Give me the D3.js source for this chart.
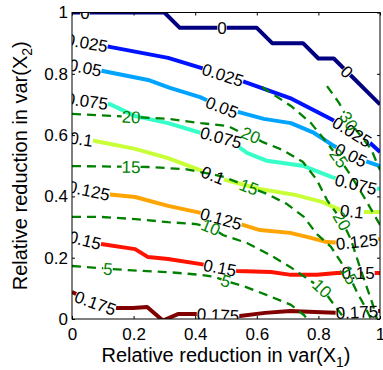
<!DOCTYPE html>
<html>
<head>
<meta charset="utf-8">
<script src="https://cdn.jsdelivr.net/npm/d3@7"></script>
<style>
  body { margin: 0; background: #fff; }
  text { font-family: "Liberation Sans", Arial, Helvetica, sans-serif; }
</style>
</head>
<body>
<div id="plot"></div>
<script>
const W = 383, H = 370;
const margin = { top: 12.5, right: 3, bottom: 51, left: 72 },
      width = W - margin.left - margin.right,
      height = H - margin.top - margin.bottom;

// Axis ticks
const ticks = [0, 0.2, 0.4, 0.6, 0.8, 1];
const tickLabels = ["0", "0.2", "0.4", "0.6", "0.8", "1"];

const varLevels = [0, 0.025, 0.05, 0.075, 0.1, 0.125, 0.15, 0.175];
const varNames = ["0", "0.025", "0.05", "0.075", "0.1", "0.125", "0.15", "0.175"];
const var000 = [[0,1],[0.3,1],[0.35,0.95],[0.6,0.95],[0.65,0.9],[0.75,0.9],[0.8,0.85],[0.85,0.85],[1,0.7]];
const var025 = [[0,0.91],[0.127,0.887],[0.312,0.852],[0.442,0.812],[0.562,0.773],[0.708,0.721],[0.847,0.649],[0.968,0.574],[1,0.545]];
const var050 = [[0,0.829],[0.1,0.809],[0.247,0.78],[0.318,0.754],[0.416,0.724],[0.494,0.688],[0.623,0.653],[0.711,0.639],[0.786,0.607],[0.851,0.564],[0.925,0.525],[1,0.499]];
const var075 = [[0,0.718],[0.123,0.701],[0.205,0.662],[0.312,0.639],[0.419,0.607],[0.506,0.587],[0.568,0.542],[0.633,0.516],[0.753,0.499],[0.844,0.463],[0.919,0.44],[1,0.424]];
const var100 = [[0,0.591],[0.075,0.581],[0.205,0.555],[0.312,0.525],[0.416,0.486],[0.497,0.454],[0.61,0.424],[0.724,0.405],[0.812,0.382],[0.87,0.356],[0.929,0.349],[1,0.349]];
const var125 = [[0,0.431],[0.107,0.408],[0.205,0.398],[0.312,0.369],[0.419,0.346],[0.555,0.307],[0.61,0.29],[0.708,0.281],[0.763,0.268],[0.828,0.251],[0.886,0.248],[1,0.261]];
const var150 = [[0,0.268],[0.094,0.245],[0.205,0.228],[0.247,0.202],[0.312,0.196],[0.419,0.179],[0.536,0.157],[0.646,0.153],[0.711,0.144],[0.795,0.144],[0.86,0.15],[1,0.15]];
const var175 = [[0,0.088],[0.052,0.062],[0.091,0.046],[0.146,0.036],[0.198,0.036],[0.244,0.039],[0.295,-0.005],[0.344,0.016],[0.419,0.016],[0.545,0.01],[0.627,0.02],[0.708,0.026],[0.789,0.023],[0.86,0.02],[1,0.026]];
const varLines = [var000, var025, var050, var075, var100, var125, var150, var175];
// where along x1 the inline labels sit
const varLabelX = [
  [0.042, 0.487, 0.893],
  [0.048, 0.49, 0.909],
  [0.043, 0.487, 0.906],
  [0.048, 0.484, 0.922],
  [0.03, 0.458, 0.909],
  [0.055, 0.484, 0.925],
  [0.042, 0.48, 0.929],
  [0.076, 0.474, 0.925]
];

// Dashed contours
const snrNames = ["5", "10", "15", "20", "25", "30"];
const snr05 = [[0,0.173],[0.172,0.16],[0.312,0.153],[0.419,0.144],[0.464,0.137],[0.5,0.124],[0.558,0.107],[0.633,0.078],[0.711,0.046],[0.753,0.013],[0.763,0]];
const snr10 = [[0,0.333],[0.094,0.333],[0.205,0.326],[0.312,0.316],[0.399,0.31],[0.451,0.3],[0.49,0.274],[0.568,0.248],[0.643,0.209],[0.708,0.17],[0.76,0.134],[0.812,0.1],[0.851,0.046],[0.886,0]];
const snr15 = [[0,0.499],[0.247,0.496],[0.367,0.489],[0.451,0.473],[0.494,0.463],[0.575,0.431],[0.633,0.408],[0.698,0.375],[0.753,0.333],[0.795,0.277],[0.841,0.235],[0.873,0.186],[0.899,0.144],[0.925,0.088],[0.948,0.046],[0.971,0]];
const snr20 = [[0,0.669],[0.14,0.662],[0.312,0.653],[0.419,0.639],[0.506,0.63],[0.545,0.61],[0.581,0.6],[0.62,0.577],[0.685,0.551],[0.75,0.512],[0.795,0.454],[0.828,0.388],[0.877,0.32],[0.906,0.258],[0.925,0.199],[0.951,0.121],[0.974,0.055],[0.99,0]];
const snr25 = [[0.617,0.757],[0.711,0.695],[0.776,0.639],[0.818,0.587],[0.867,0.525],[0.906,0.467],[0.948,0.398],[1,0.307]];
const snr30 = [[0.828,0.76],[0.867,0.705],[0.899,0.646],[0.938,0.597],[0.971,0.555],[0.99,0.509],[1,0.486]];
const snrLines = [snr05, snr10, snr15, snr20, snr25, snr30];
const snrLabelX = [
  [0.117, 0.5],
  [0.451, 0.812],
  [0.192, 0.575, 0.899],
  [0.192, 0.581, 0.877],
  [0.867],
  [0.899]
];

// jet colormap, like the original figure
function jet(t) {
  const c = v => Math.round(255 * Math.max(0, Math.min(1, 1.5 - Math.abs(v))));
  return d3.rgb(c(4 * t - 3), c(4 * t - 2), c(4 * t - 1)).formatHex();
}
const green = "#008000";

const svg = d3.select("#plot")
  .append("svg")
    .attr("width", W)
    .attr("height", H)
  .append("g")
    .attr("transform", `translate(${margin.left},${margin.top})`);

const x = d3.scaleLinear().domain([0, 1]).range([0, width]);
const y = d3.scaleLinear().domain([0, 1]).range([height, 0]);

svg.append("clipPath").attr("id", "clip")
  .append("rect").attr("width", width).attr("height", height);

const plot = svg.append("g").attr("clip-path", "url(#clip)");
const lineLayer = plot.append("g");
const dashLayer = plot.append("g");
const textLayer = plot.append("g");

const line = d3.line();

// contour line with clabel-style gaps under its labels
function drawContour(layer, data, labelXs, name, stroke, textFill, style) {
  const pts = data.map(d => [x(d[0]), y(d[1])]);
  const cum = [0];
  for (let i = 1; i < pts.length; i++) {
    cum.push(cum[i - 1] + Math.hypot(pts[i][0] - pts[i - 1][0], pts[i][1] - pts[i - 1][1]));
  }
  const total = cum[cum.length - 1];
  function pointAt(s) {
    s = Math.max(0, Math.min(total, s));
    let i = 1;
    while (i < cum.length - 1 && cum[i] < s) i++;
    const t = (s - cum[i - 1]) / ((cum[i] - cum[i - 1]) || 1);
    return [pts[i - 1][0] + t * (pts[i][0] - pts[i - 1][0]),
            pts[i - 1][1] + t * (pts[i][1] - pts[i - 1][1])];
  }
  function arcAtX(px) {
    for (let i = 1; i < pts.length; i++) {
      if (px >= pts[i - 1][0] && px <= pts[i][0]) {
        const t = (px - pts[i - 1][0]) / ((pts[i][0] - pts[i - 1][0]) || 1);
        return cum[i - 1] + t * (cum[i] - cum[i - 1]);
      }
    }
    return 0;
  }

  const gaps = [];
  labelXs.forEach(lx => {
    const s = arcAtX(x(lx));
    const p = pointAt(s);
    const a = pointAt(s - 9), b = pointAt(s + 9);
    let ang = Math.atan2(b[1] - a[1], b[0] - a[0]) * 180 / Math.PI;
    const t = textLayer.append("text")
      .attr("transform", `translate(${p[0]},${p[1]}) rotate(${ang})`)
      .attr("text-anchor", "middle")
      .attr("dy", "0.36em")
      .attr("font-size", 17)
      .attr("fill", textFill)
      .text(name);
    const half = t.node().getComputedTextLength() / 2;
    gaps.push([s - half, s + half]);
  });
  gaps.sort((a, b) => a[0] - b[0]);

  // pieces between the gaps
  const pieces = [];
  let start = 0;
  gaps.concat([[total, total]]).forEach(g => {
    const end = g[0];
    if (end > start) {
      const seg = [pointAt(start)];
      for (let i = 0; i < cum.length; i++) if (cum[i] > start && cum[i] < end) seg.push(pts[i]);
      seg.push(pointAt(end));
      pieces.push(seg);
    }
    start = Math.max(start, g[1]);
  });

  layer.selectAll(null)
    .data(pieces)
    .join("path")
      .attr("d", line)
      .attr("fill", "none")
      .attr("stroke", stroke)
      .attr("stroke-width", style.width)
      .attr("stroke-dasharray", style.dash)
      .attr("stroke-linejoin", "round");
}

varLines.forEach((d, i) => {
  drawContour(lineLayer, d, varLabelX[i], varNames[i], jet(i / (varLevels.length - 1)), "#000",
    { width: 4, dash: null });
});
snrLines.forEach((d, i) => {
  drawContour(dashLayer, d, snrLabelX[i], snrNames[i], green, green,
    { width: 2.3, dash: "9,6" });
});

// Axes, ticks pointing inward on all four sides
const fmt = (d, i) => tickLabels[i];
const xAxis = svg.append("g")
  .attr("transform", `translate(0,${height})`)
  .call(d3.axisBottom(x).tickValues(ticks).tickFormat(fmt).tickSize(-3).tickPadding(9));
const yAxis = svg.append("g")
  .call(d3.axisLeft(y).tickValues(ticks).tickFormat(fmt).tickSize(-3).tickPadding(4));
svg.append("g")
  .call(d3.axisTop(x).tickValues(ticks).tickFormat("").tickSize(-3));
svg.append("g")
  .attr("transform", `translate(${width},0)`)
  .call(d3.axisRight(y).tickValues(ticks).tickFormat("").tickSize(-3));

svg.selectAll(".domain").remove();
svg.selectAll(".tick line").attr("stroke", "#000");
svg.selectAll(".tick text")
  .attr("font-size", 17)
  .attr("font-family", "Liberation Sans, Arial, sans-serif")
  .attr("fill", "#000");

svg.append("rect")
  .attr("width", width)
  .attr("height", height)
  .attr("fill", "none")
  .attr("stroke", "#000")
  .attr("stroke-width", 1);

// Axis titles
const xt = svg.append("text")
  .attr("x", width / 2)
  .attr("y", 349.5)
  .attr("text-anchor", "middle")
  .attr("font-size", 20);
xt.append("tspan").text("Relative reduction in var(X");
xt.append("tspan").attr("font-size", 14).attr("dy", 5).text("1");
xt.append("tspan").attr("dy", -5).text(")");

const yt = svg.append("text")
  .attr("transform", `translate(${27 - margin.left},${height / 2}) rotate(-90)`)
  .attr("text-anchor", "middle")
  .attr("font-size", 20);
yt.append("tspan").text("Relative reduction in var(X");
yt.append("tspan").attr("font-size", 14).attr("dy", 5).text("2");
yt.append("tspan").attr("dy", -5).text(")");
</script>
</body>
</html>
